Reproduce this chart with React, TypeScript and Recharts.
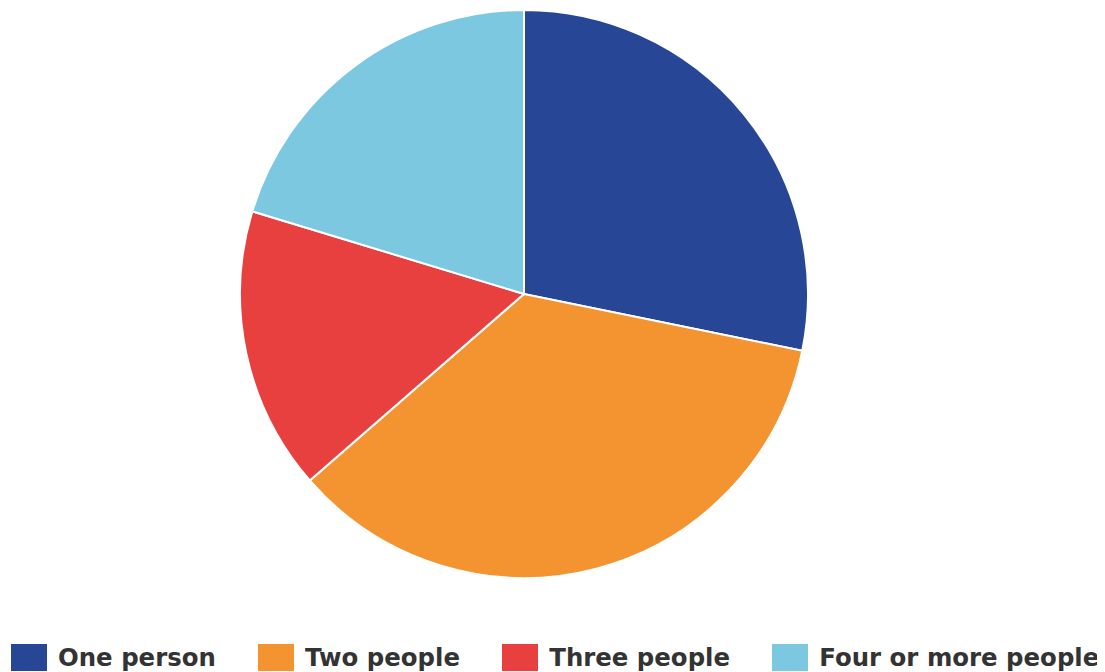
import React from "react";
import { PieChart, Pie, Cell, Legend } from "recharts";

const categories = ["One person", "Two people", "Three people", "Four or more people"];
const values = [28.2, 35.4, 16.1, 20.3];
const colors = ["#274796", "#F39430", "#E83F3F", "#7DC8E1"];

const data = categories.map((name, i) => ({ name, value: values[i] }));

const renderLegend = () => (
  <div
    style={{
      display: "flex",
      alignItems: "center",
      height: 30,
      paddingLeft: 3,
      fontFamily: "'DejaVu Sans', sans-serif",
      fontWeight: "bold",
      fontSize: 24.4,
      color: "#333333",
    }}
  >
    {categories.map((c, i) => (
      <div key={c} style={{ display: "flex", alignItems: "center", flexShrink: 0, marginRight: i < categories.length - 1 ? 42.3 : 0 }}>
        <span style={{ display: "inline-block", width: 36, height: 27, background: colors[i], marginRight: 11 }} />
        <span style={{ whiteSpace: "nowrap" }}>{c}</span>
      </div>
    ))}
  </div>
);

export default function App() {
  return (
    <PieChart width={1097} height={664} margin={{ top: 0, right: 0, bottom: 0, left: 0 }}>
      <Pie
        data={data}
        dataKey="value"
        nameKey="name"
        cx={516}
        cy={286}
        outerRadius={284}
        startAngle={90}
        endAngle={-270}
        stroke="#ffffff"
        strokeWidth={2}
        isAnimationActive={false}
      >
        {data.map((d, i) => (
          <Cell key={d.name} fill={colors[i]} />
        ))}
      </Pie>
      <Legend content={renderLegend} wrapperStyle={{ bottom: 0, left: 0, width: 1097 }} />
    </PieChart>
  );
}
